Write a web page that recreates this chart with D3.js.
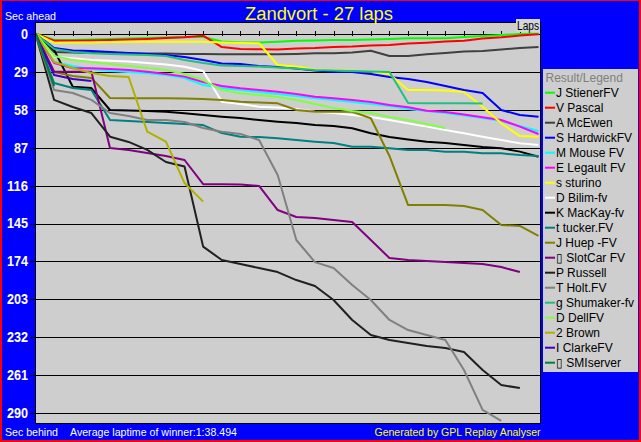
<!DOCTYPE html>
<html><head><meta charset="utf-8">
<script src="https://cdn.jsdelivr.net/npm/d3@7"></script>
<style>body{margin:0;background:#0000ff}svg{display:block}text{font-family:"Liberation Sans",Arial,sans-serif}</style>
</head><body><svg id="c" width="641" height="442"></svg>
<script>
const title = "Zandvort - 27 laps";
const lapCount = 27;
const yTicks = [0,29,58,87,116,145,174,203,232,261,290];
const drivers = ["J StienerFV","V Pascal","A McEwen","S HardwickFV","M Mouse FV","E Legault FV","s sturino","D Bilim-fv","K MacKay-fv","t tucker.FV","J Huep -FV","\u25AF SlotCar FV","P Russell","T Holt.FV","g Shumaker-fv","D DellFV","2 Brown","I ClarkeFV","\u25AF SMIserver"];
const colors = ["#00ff00","#ff0000","#404040","#0000ff","#00ffff","#ff00ff","#ffff00","#ffffff","#000000","#008080","#808000","#800080","#202020","#808080","#20c080","#80ff40","#b0b000","#4000c0","#008040"];
// seconds behind winner's average pace, per lap (lap 0..)
const stiener = [0,4.8,4.8,4.4,4.0,3.7,3.3,2.9,2.5,2.5,6.0,6.7,6.7,6.1,5.3,5.2,4.8,4.8,4.4,4.0,3.5,3.5,3.5,2.5,1.8,1.0,0.2,0];
const pascal = [0,5.3,5.3,5.2,4.8,4.4,4.0,3.3,2.8,1.5,10.2,11.7,11.9,12.1,11.3,11.0,10.2,9.8,9.0,8.6,7.5,6.9,6.0,5.3,3.7,2.8,1.4,0.5];
const mcewen = [0,14.0,14.4,14.7,14.7,15.0,15.1,15.1,15.5,15.5,15.7,15.7,15.7,15.7,15.5,15.0,15.0,14.4,13.0,17.0,17.0,15.7,14.7,13.6,13.2,12.1,10.9,10.2];
const hardwick = [0,10.9,12.8,13.2,14.0,14.7,15.5,16.3,17.8,20.1,22.8,23.2,24.7,25.4,26.6,28.1,29.0,29.3,30.8,33.1,34.6,36.9,39.9,43.0,45.3,58.3,62.1,63.4];
const mouse = [0,21.6,24.7,27.0,28.5,29.3,30.3,31.6,33.8,39.2,41.5,43.0,44.5,46.1,47.6,49.4,50.6,52.2,53.7,55.2,57.5,59.1,60.6,62.5,64.4,66.7,70.5,74.3];
const legault = [0,22.4,26.4,26.4,27.0,27.7,29.0,30.8,32.8,36.9,40.0,41.7,43.0,44.3,46.1,48.1,49.4,50.6,52.2,54.5,56.2,58.8,59.8,61.7,63.9,65.9,71.0,76.6];
const sturino = [0,6.9,6.7,6.7,6.3,6.1,6.1,6.1,6.1,6.1,6.7,7.1,7.3,23.9,25.1,27.4,27.7,28.3,28.9,30.8,43.0,43.0,43.4,44.5,55.8,68.5,78.2,78.7];
const bilim = [0,17.6,18.8,20.1,20.6,21.2,22.4,23.5,25.2,28.5,51.9,53.7,55.8,56.4,57.5,59.6,60.6,62.1,63.6,65.9,68.5,71.0,73.6,76.1,78.7,81.2,83.7,85.0];
const mackay = [0,12.5,40.5,41.5,58.3,58.7,59.1,59.6,60.8,62.1,63.4,64.4,65.9,67.2,68.2,69.8,70.5,72.3,76.1,78.9,80.8,82.5,83.5,85.0,86.5,87.5,90.1,94.0];
const tucker = [0,37.7,41.5,43.0,65.9,66.7,67.5,68.2,69.0,69.8,75.9,78.7,78.9,79.9,81.2,82.5,83.5,86.3,86.3,87.6,88.8,88.8,90.1,90.1,91.4,91.4,92.7,93.4];
const huep = [0,29.3,32.3,33.8,49.1,49.4,49.4,49.4,49.5,49.9,50.6,51.9,52.6,53.2,58.3,59.6,59.6,59.6,64.6,93.4,130.9,130.9,130.9,131.7,134.7,146.1,146.9,154.5];
const slotcar = [0,29.0,29.0,29.0,87.3,88.8,91.1,93.4,96.5,115.0,115.0,115.2,116.3,134.7,140.0,140.8,142.3,143.9,157.6,171.4,172.9,173.7,174.5,175.2,176.0,178.3,182.1];
const russell = [0,50.6,56.0,60.6,78.7,82.7,88.8,98.0,101.5,162.7,172.9,176.0,179.0,182.1,188.2,192.7,203.4,218.7,230.2,234.0,236.3,238.6,240.1,243.2,256.9,268.4,270.7];
const holt = [0,43.0,45.3,50.6,60.6,62.9,65.9,65.9,67.5,72.1,74.9,76.6,81.2,107.9,157.6,174.5,179.0,192.0,203.4,218.7,226.4,230.2,234.0,256.9,287.4,295.8];
const shumaker = [0,11.7,14.0,15.0,15.5,15.9,16.3,17.0,20.1,22.4,24.3,24.7,25.1,25.8,26.6,27.7,28.1,28.5,28.9,29.3,52.9,53.2,53.2,53.2,53.3];
const dell = [0,17.0,20.1,21.6,23.1,24.7,26.2,27.7,30.8,35.4,43.0,45.5,46.8,48.4,50.6,53.7,56.8,59.1,60.6,63.6,65.9,69.0,72.1];
const brown = [0,21.6,26.2,30.0,32.3,33.1,74.9,82.5,114.1,128.3];
const clarke = [0,31.6,34.6,36.1];
const smiserver = [0,40.0];
const seriesValues = [stiener,pascal,mcewen,hardwick,mouse,legault,sturino,bilim,mackay,tucker,huep,slotcar,russell,holt,shumaker,dell,brown,clarke,smiserver];

const svg = d3.select("#c");
const W = 641, H = 442;
const P = {l:35, t:22, r:540, b:423};
svg.append("rect").attr("width",W).attr("height",H).attr("fill","#ff0000");
svg.append("rect").attr("x",2).attr("y",1).attr("width",W-4).attr("height",H-3).attr("fill","#0000ff");

const x = d3.scaleLinear().domain([0,lapCount]).range([35.5,538.5]);
const y = d3.scaleLinear().domain([0,290]).range([33.7,413.3]);

svg.append("rect").attr("x",P.l).attr("y",P.t).attr("width",P.r-P.l).attr("height",P.b-P.t)
  .attr("fill","#cecece").attr("stroke","#000").attr("stroke-width",1).attr("shape-rendering","crispEdges");

// y axis with gridlines
const yAxis = svg.append("g").attr("transform",`translate(${P.r},0)`)
  .call(d3.axisLeft(y).tickValues(yTicks).tickSize(P.r-30).tickPadding(2));
yAxis.select(".domain").remove();
yAxis.selectAll(".tick line").attr("stroke","#000").attr("shape-rendering","crispEdges");
yAxis.selectAll(".tick text").attr("fill","#fff").attr("font-weight","bold").attr("font-size","14px")
  .attr("font-family","'Liberation Sans',Arial,sans-serif")
  .attr("textLength",d=>String(d).length*7).attr("lengthAdjust","spacingAndGlyphs");

// lap ticks on zero line
const xAxis = svg.append("g").attr("transform",`translate(0,${y(0)-2.5})`)
  .call(d3.axisBottom(x).tickValues(d3.range(1,lapCount)).tickSize(5).tickFormat(""));
xAxis.select(".domain").remove();
xAxis.selectAll(".tick line").attr("stroke","#000").attr("shape-rendering","crispEdges");

// Laps box
svg.append("rect").attr("x",516).attr("y",19).attr("width",24).attr("height",13).attr("fill","#d6d6d6");
svg.append("text").attr("x",517).attr("y",30).attr("font-size","12px").attr("fill","#000")
  .attr("textLength",22).attr("lengthAdjust","spacingAndGlyphs").text("Laps");

svg.append("clipPath").attr("id","plotclip").append("rect").attr("x",P.l+1).attr("y",P.t+1).attr("width",P.r-P.l-1).attr("height",P.b-P.t-1);
const line = d3.line().x((d,i)=>x(i)).y(d=>y(d));
const g = svg.append("g").attr("clip-path","url(#plotclip)");
seriesValues.forEach((vals,k)=>{
  g.append("path").attr("d",line(vals)).attr("fill","none").attr("stroke",colors[k]).attr("stroke-width",2)
   .attr("stroke-linejoin","round");
});

// titles
function txt(xp,yp,s,fill,size,len,anchor){
  const t = svg.append("text").attr("x",xp).attr("y",yp).attr("fill",fill).attr("font-size",size+"px").text(s);
  if(anchor) t.attr("text-anchor",anchor);
  if(len) t.attr("textLength",len).attr("lengthAdjust","spacingAndGlyphs");
  return t;
}
txt(245,20,title,"#ffff00",18,148);
txt(5,20,"Sec ahead","#fff",11,51);
txt(5,436,"Sec behind","#fff",11,53);
txt(70,436,"Average laptime of winner:1:38.494","#fff",11,167);
txt(374.5,436,"Generated by GPL Replay Analyser","#ffff00",11,166);

// legend
const lg = svg.append("g");
lg.append("rect").attr("x",543).attr("y",69).attr("width",95).attr("height",303).attr("fill","#cecece");
lg.append("text").attr("x",545.5).attr("y",81.5).attr("fill","#808080").attr("font-size","12px").text("Result/Legend");
drivers.forEach((name,i)=>{
  const cy = 92.7 + i*15;
  lg.append("line").attr("x1",545).attr("x2",555).attr("y1",cy).attr("y2",cy).attr("stroke",colors[i]).attr("stroke-width",2);
  lg.append("text").attr("x",556).attr("y",cy+4.5).attr("fill","#000").attr("font-size","12px").text(name);
});
</script></body></html>
